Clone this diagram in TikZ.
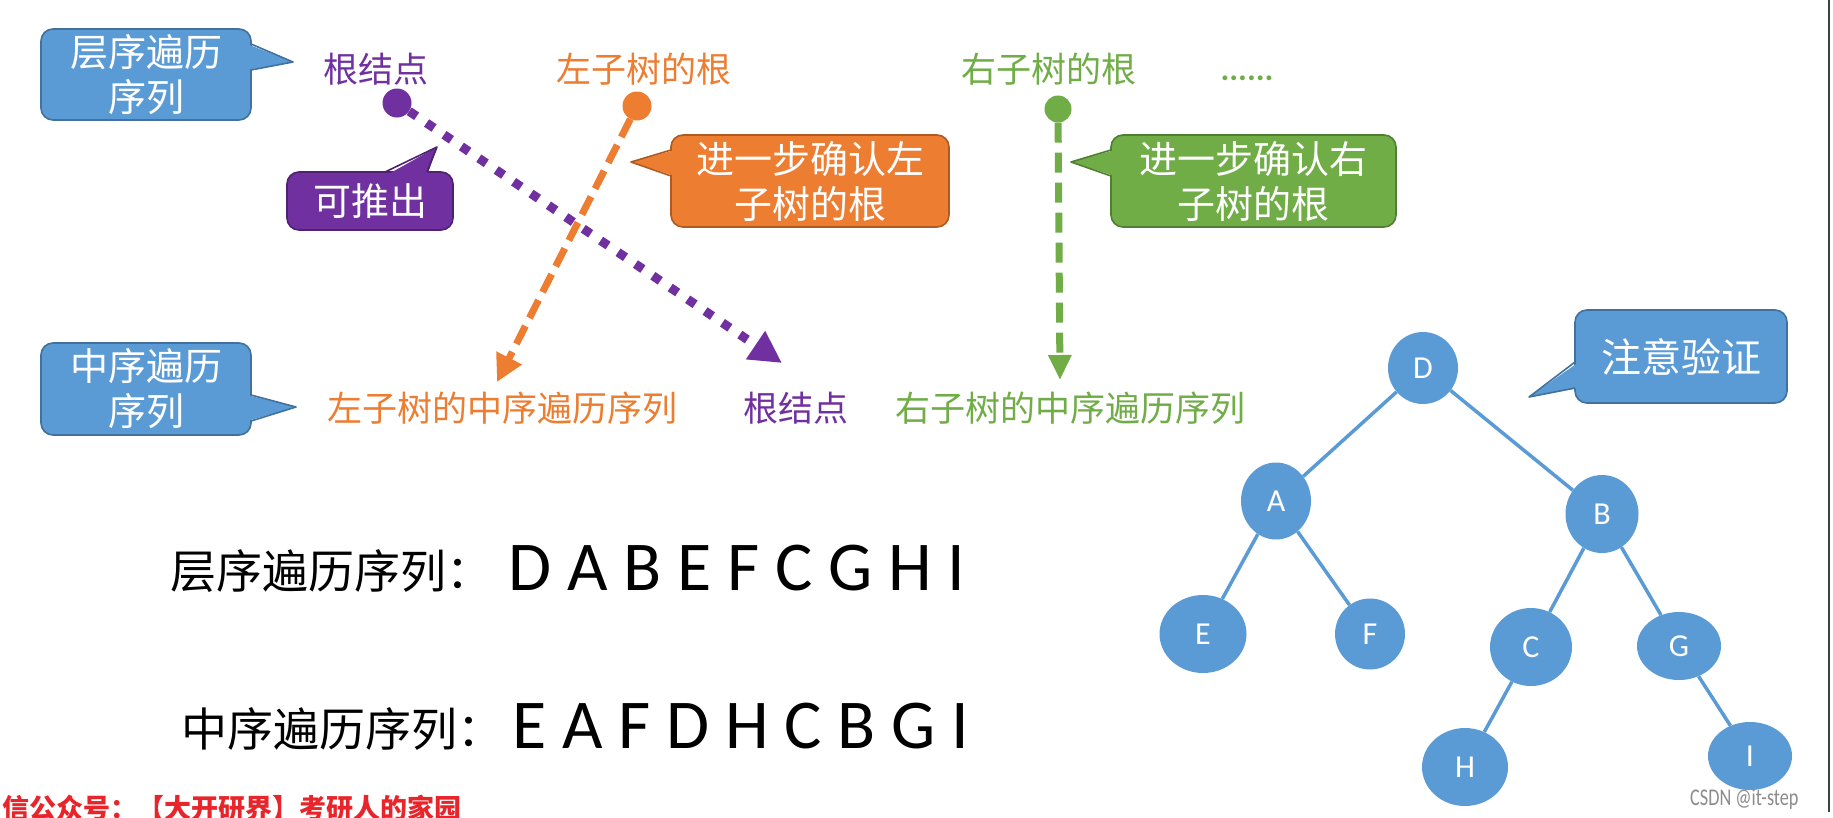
\documentclass[tikz,border=0pt]{standalone}
\usepackage{fontspec}
\newfontfamily\cjk{Noto Sans CJK SC}
\newfontfamily\lat{Carlito}
\newfontfamily\latn[FakeStretch=0.76]{Carlito}
\usetikzlibrary{arrows.meta,shapes.geometric}
\definecolor{cblue}{HTML}{5B9BD5}
\definecolor{cblueD}{HTML}{41719C}
\definecolor{cpurple}{HTML}{7030A0}
\definecolor{cpurpleD}{HTML}{4E2270}
\definecolor{corange}{HTML}{ED7D31}
\definecolor{corangeD}{HTML}{AE5A21}
\definecolor{cgreen}{HTML}{70AD47}
\definecolor{cgreenD}{HTML}{507E32}
\definecolor{wmred}{HTML}{E8252B}
\begin{document}
\begin{tikzpicture}[x=1pt,y=-1pt,
  lbl/.style={inner sep=0pt, font=\cjk\fontsize{35}{42}\selectfont},
  cbox/.style={rounded corners=12pt, line width=1.6pt, text=white, align=center, inner sep=0pt,
     font=\cjk\fontsize{38}{45}\selectfont},
  dotn/.style={circle, inner sep=0pt, minimum size=29pt},
  tnode/.style={ellipse, fill=cblue, text=white, inner sep=0pt, font=\lat\fontsize{32}{32}\selectfont},
  tedge/.style={draw=cblue, line width=3.5pt},
  seqcn/.style={anchor=base west, inner sep=0pt, font=\cjk\fontsize{46}{46}\selectfont},
  seqlt/.style={anchor=base west, inner sep=0pt, font=\lat\fontsize{70}{70}\selectfont}
]
\useasboundingbox[fill=white] (0,0) rectangle (1833,817);

% ---------- callout boxes ----------
\node[cbox, fill=cblue, draw=cblueD, minimum width=210pt, minimum height=91pt] (lvlbox) at (146,74.5) {层序遍历\\序列};
\fill[cblue] (247,44) -- (293,62) -- (247,70) -- cycle;
\draw[cblueD, line width=1.6pt, line join=round] (251,44) -- (293,62) -- (251,70);

\node[cbox, fill=cblue, draw=cblueD, minimum width=210pt, minimum height=92pt] (inbox) at (146,389) {中序遍历\\序列};
\fill[cblue] (247,395) -- (296,407) -- (247,421) -- cycle;
\draw[cblueD, line width=1.6pt, line join=round] (251,395) -- (296,407) -- (251,421);

\node[cbox, fill=cpurple, draw=cpurpleD, minimum width=166pt, minimum height=58pt] (derive) at (370,201) {可推出};
\fill[cpurple] (385,176) -- (437,147) -- (427,176) -- cycle;
\draw[cpurpleD, line width=1.6pt, line join=round] (385,172) -- (437,147) -- (427,172);

\node[cbox, fill=corange, draw=corangeD, minimum width=278pt, minimum height=92pt] (obox) at (810,181) {进一步确认左\\子树的根};
\fill[corange] (675,150) -- (631,162) -- (675,176) -- cycle;
\draw[corangeD, line width=1.6pt, line join=round] (671,150) -- (631,162) -- (671,176);

\node[cbox, fill=cgreen, draw=cgreenD, minimum width=285pt, minimum height=92pt] (gbox) at (1253.5,181) {进一步确认右\\子树的根};
\fill[cgreen] (1115,150) -- (1071,162) -- (1115,176) -- cycle;
\draw[cgreenD, line width=1.6pt, line join=round] (1111,150) -- (1071,162) -- (1111,176);

\node[cbox, fill=cblue, draw=cblueD, minimum width=212pt, minimum height=93pt,
      font=\cjk\fontsize{40}{46}\selectfont] (note) at (1681,356.5) {注意验证};
\fill[cblue] (1579,362) -- (1529,397) -- (1579,388) -- cycle;
\draw[cblueD, line width=1.6pt, line join=round] (1575,362) -- (1529,397) -- (1575,388);

% ---------- labels ----------
\node[lbl, text=cpurple] (rootL) at (376,69) {根结点};
\node[lbl, text=corange] (leftR) at (644,69) {左子树的根};
\node[lbl, text=cgreen] (rightR) at (1049,69) {右子树的根};
\node[anchor=base, inner sep=0pt, text=cgreen, font=\lat\bfseries\fontsize{33}{33}\selectfont] (more) at (1247,80) {......};

\node[lbl, text=corange] (leftIn) at (502,408) {左子树的中序遍历序列};
\node[lbl, text=cpurple] (rootIn) at (796,408) {根结点};
\node[lbl, text=cgreen] (rightIn) at (1070,408) {右子树的中序遍历序列};

% ---------- dots and arrows ----------
\node[dotn, fill=cpurple] (pdot) at (397,103) {};
\node[dotn, fill=corange] (odot) at (637,106) {};
\node[dotn, fill=cgreen, minimum size=27pt] (gdot) at (1058,109) {};
\coordinate (oT) at (497,382);
\coordinate (pT) at (782,363);
\coordinate (gT) at (1060,380);
\draw[corange, line width=7pt, dash pattern=on 20pt off 9pt, -{Triangle[length=27pt,width=27pt]}] (odot) -- (oT);
\draw[cgreen, line width=7pt, dash pattern=on 20pt off 10pt, -{Triangle[length=25pt,width=22pt]}] (gdot) -- (gT);
\draw[cpurple, line width=9pt, dash pattern=on 9pt off 12pt, -{Triangle[length=32pt,width=32pt]}] (pdot) -- (pT);

% ---------- sequences ----------
\node[seqcn] (lvlCN) at (170,588) {层序遍历序列：};
\node[seqlt] (lvlSeq) at (508,590) {D A B E F C G H I};
\node[seqcn] (inCN) at (181,746) {中序遍历序列：};
\node[seqlt] (inSeq) at (512,748) {E A F D H C B G I};

% ---------- tree ----------
\node[tnode, minimum width=70pt, minimum height=72pt] (D) at (1423,368) {D};
\node[tnode, minimum width=70pt, minimum height=77pt] (A) at (1276,501) {A};
\node[tnode, minimum width=73pt, minimum height=78pt] (B) at (1602,514) {B};
\node[tnode, minimum width=87pt, minimum height=78pt] (E) at (1203,634) {E};
\node[tnode, minimum width=70pt, minimum height=71pt] (F) at (1370,634) {F};
\node[tnode, minimum width=82pt, minimum height=78pt] (C) at (1531,647) {C};
\node[tnode, minimum width=84pt, minimum height=68pt] (G) at (1679,646) {G};
\node[tnode, minimum width=86pt, minimum height=78pt] (H) at (1465,767) {H};
\node[tnode, minimum width=84pt, minimum height=68pt] (I) at (1750,756) {I};
\draw[tedge] (D) -- (A);
\draw[tedge] (D) -- (B);
\draw[tedge] (A) -- (E);
\draw[tedge] (A) -- (F);
\draw[tedge] (B) -- (C);
\draw[tedge] (B) -- (G);
\draw[tedge] (C) -- (H);
\draw[tedge] (G) -- (I);

% ---------- watermarks and frame ----------
\node[anchor=base west, inner sep=0pt, text=wmred, font=\cjk\bfseries\fontsize{27}{27}\selectfont] (wm) at (2,818) {信公众号：【大开研界】考研人的家园};
\node[anchor=base west, inner sep=0pt, text=black!45, font=\latn\fontsize{24}{24}\selectfont] (csdn) at (1690,805) {CSDN @it-step};
\coordinate (fr1) at (1829,0);
\coordinate (fr2) at (1829,812);
\draw[black!75, line width=2pt] (fr1) -- (fr2);
\end{tikzpicture}
\end{document}
